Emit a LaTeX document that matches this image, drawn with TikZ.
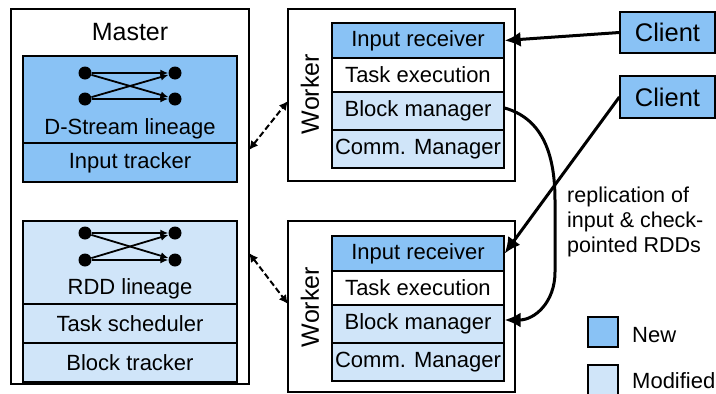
\documentclass[tikz,border=0pt]{standalone}
\usepackage{fontspec}
\setmainfont{Liberation Sans}
\usetikzlibrary{arrows.meta}
\definecolor{newblue}{RGB}{137,194,245}
\definecolor{modblue}{RGB}{208,229,249}
\begin{document}
\begin{tikzpicture}[x=1pt,y=-1pt,
  outer/.style={draw=black,line width=1.3pt,inner sep=0pt},
  cell/.style={draw=black,line width=1.3pt,inner sep=0pt,font=\fontsize{22}{26}\selectfont},
  mcell/.style={cell,minimum width=214pt},
  wcell/.style={cell,minimum width=172pt},
  big/.style={font=\fontsize{25}{30}\selectfont,inner sep=0pt},
  txt/.style={font=\fontsize{22}{26}\selectfont,inner sep=0pt},
  dot/.style={circle,fill=black,minimum size=13pt,inner sep=0pt},
  garrow/.style={line width=1.8pt,-{Latex[length=8pt,width=7pt]}},
  darrow/.style={line width=2pt,dash pattern=on 6pt off 3pt,{Latex[length=9pt,width=9pt]}-{Latex[length=9pt,width=9pt]}},
  tarrow/.style={line width=3pt,-{Latex[length=16pt,width=15pt]}}]
\useasboundingbox (0,0) rectangle (716,394);
% Master
\node[outer,minimum width=238pt,minimum height=375pt] (master) at (130,196.5) {};
\node[big] (mlabel) at (130,32) {Master};
\node[mcell,fill=newblue,minimum height=87pt] (dsl) at (130,99.5) {};
\node[txt] (dsltxt) at (130,129) {D-Stream lineage};
\node[mcell,fill=newblue,minimum height=39pt] (itr) at (130,162.5) {Input tracker};
\node[mcell,fill=modblue,minimum height=83pt] (rddl) at (130,262.5) {};
\node[txt] (rddtxt) at (130,289) {RDD lineage};
\node[mcell,fill=modblue,minimum height=39pt] (tsch) at (130,323.5) {Task scheduler};
\node[mcell,fill=modblue,minimum height=39pt] (btr) at (130,362.5) {Block tracker};
% lineage graphs
\node[dot] (a1) at (85,73) {};
\node[dot] (a2) at (85,99) {};
\node[dot] (a3) at (175,73) {};
\node[dot] (a4) at (175,99) {};
\draw[garrow] (a1) -- (a3);
\draw[garrow] (a1) -- (a4);
\draw[garrow] (a2) -- (a3);
\draw[garrow] (a2) -- (a4);
\node[dot] (b1) at (85,233) {};
\node[dot] (b2) at (85,260) {};
\node[dot] (b3) at (175,233) {};
\node[dot] (b4) at (175,260) {};
\draw[garrow] (b1) -- (b3);
\draw[garrow] (b1) -- (b4);
\draw[garrow] (b2) -- (b3);
\draw[garrow] (b2) -- (b4);
% Worker 1
\node[outer,minimum width=227pt,minimum height=172pt] (w1) at (401.5,95) {};
\node[big,rotate=90] (w1lbl) at (310,94) {Worker};
\node[wcell,fill=newblue,minimum height=35pt] (ir1) at (418,40.5) {Input receiver};
\node[wcell,fill=white,minimum height=34pt] (te1) at (418,75) {Task execution};
\node[wcell,fill=modblue,minimum height=38pt] (bm1) at (418,111) {Block manager};
\node[wcell,fill=modblue,minimum height=38pt] (cm1) at (418,149) {Comm. Manager};
% Worker 2
\node[outer,minimum width=227pt,minimum height=171pt] (w2) at (401.5,306.5) {};
\node[big,rotate=90] (w2lbl) at (310,307) {Worker};
\node[wcell,fill=newblue,minimum height=35pt] (ir2) at (418,253.5) {Input receiver};
\node[wcell,fill=white,minimum height=34pt] (te2) at (418,288) {Task execution};
\node[wcell,fill=modblue,minimum height=38pt] (bm2) at (418,324) {Block manager};
\node[wcell,fill=modblue,minimum height=38pt] (cm2) at (418,362) {Comm. Manager};
% Clients
\node[outer,fill=newblue,minimum width=95pt,minimum height=41pt,font=\fontsize{25.5}{30}\selectfont] (c1) at (667.5,32.5) {Client};
\node[outer,fill=newblue,minimum width=95pt,minimum height=42pt,font=\fontsize{25.5}{30}\selectfont] (c2) at (667.5,97) {Client};
% dashed links
\coordinate (ma1) at (249,150);
\coordinate (wa1) at (288,101);
\coordinate (ma2) at (249,253);
\coordinate (wa2) at (288,304);
\draw[darrow] (ma1) -- (wa1);
\draw[darrow] (ma2) -- (wa2);
% client arrows
\draw[tarrow] (c1.west) -- (ir1.east);
\draw[tarrow] (c2.west) -- (ir2.east);
% replication curve
\coordinate (cv1) at (555,200);
\coordinate (cv2) at (555,272);
\draw[tarrow] ([yshift=3pt]bm1.east) .. controls (540,118) and (555,150) .. (cv1) -- (cv2) .. controls (555,302) and (535,320) .. ([yshift=4pt]bm2.east);
\node[txt,anchor=west,align=left,font=\fontsize{21.5}{25}\selectfont] (rep) at (567,222) {replication of\\input \& check-\\pointed RDDs};
% legend
\node[outer,fill=newblue,minimum size=30pt] (lnew) at (603,332) {};
\node[txt,anchor=west] (lnewt) at (632,335) {New};
\node[outer,fill=modblue,minimum size=30pt] (lmod) at (603,380) {};
\node[txt,anchor=west] (lmodt) at (632,381) {Modified};
\end{tikzpicture}
\end{document}
